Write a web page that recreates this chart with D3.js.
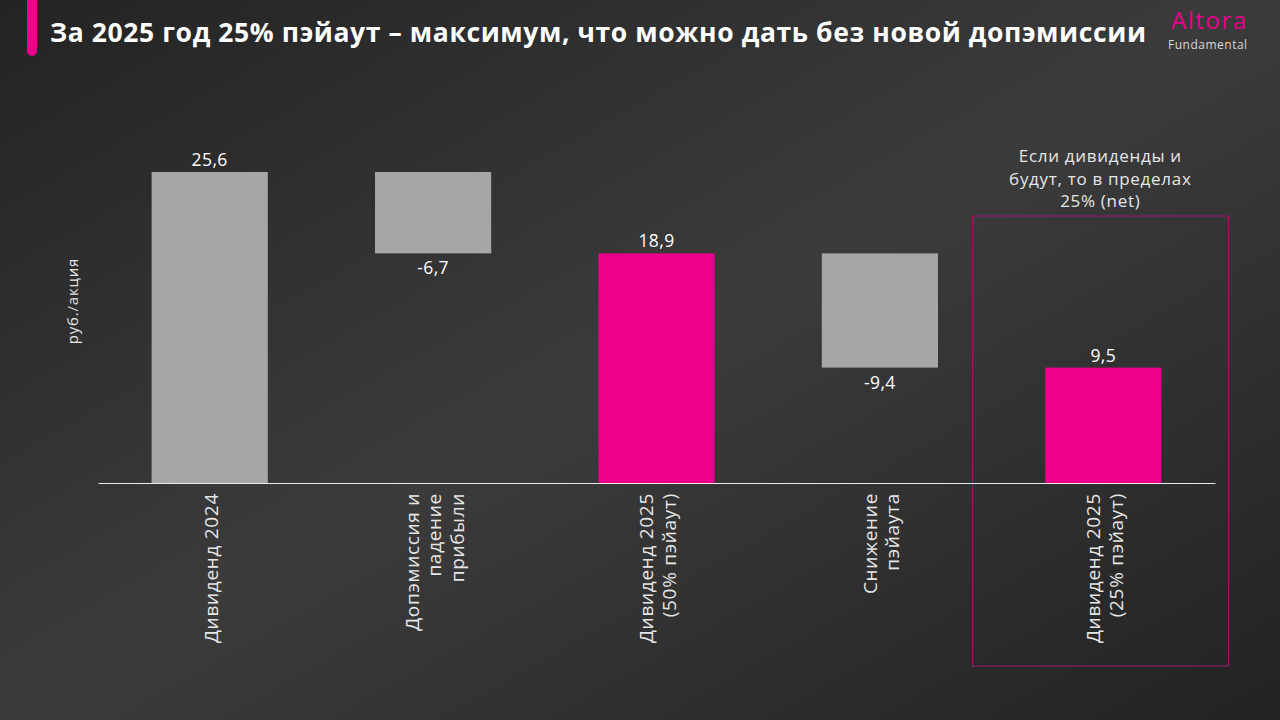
<!DOCTYPE html>
<html><head><meta charset="utf-8">
<script src="https://cdn.jsdelivr.net/npm/d3@7/dist/d3.min.js"></script>
<style>html,body{margin:0;padding:0;background:#2a2a2a;}svg{display:block;}</style>
</head><body>
<svg id="c" width="1280" height="720"></svg>
<script>
const categories = [["Дивиденд 2024"], ["Допэмиссия и", "падение", "прибыли"], ["Дивиденд 2025", "(50% пэйаут)"], ["Снижение", "пэйаута"], ["Дивиденд 2025", "(25% пэйаут)"]];
const values = [25.6, -6.7, 18.9, -9.4, 9.5];
const kinds = ["total", "delta", "total", "delta", "total"];
const valueLabels = ["25,6", "-6,7", "18,9", "-9,4", "9,5"];
const noteLines = ["Если дивиденды и", "будут, то в пределах", "25% (net)"];

const svg = d3.select("#c");
const W = 1280, H = 720;
const FONT = "'Open Sans', 'Noto Sans', sans-serif";

const defs = svg.append("defs");
const g = defs.append("linearGradient").attr("id", "bg").attr("x1", 0).attr("y1", 0).attr("x2", 1).attr("y2", 1);
g.append("stop").attr("offset", 0).attr("stop-color", "#232323");
g.append("stop").attr("offset", 0.5).attr("stop-color", "#3b3b3b");
g.append("stop").attr("offset", 1).attr("stop-color", "#222222");
svg.append("rect").attr("width", W).attr("height", H).attr("fill", "url(#bg)");

// accent bar
svg.append("rect").attr("x", 27).attr("y", -10).attr("width", 10).attr("height", 66).attr("rx", 5).attr("fill", "#ec008c");
svg.append("text").attr("x", 50).attr("y", 42).attr("fill", "#ffffff").attr("font-family", FONT)
  .attr("font-weight", 700).attr("font-size", 26.5).attr("letter-spacing", 0.6)
  .text("За 2025 год 25% пэйаут – максимум, что можно дать без новой допэмиссии");
svg.append("text").attr("x", 1171).attr("y", 29).attr("fill", "#e6008a").attr("font-family", FONT)
  .attr("font-size", 24.5).attr("letter-spacing", 1.3).text("Altora");
svg.append("text").attr("x", 1168).attr("y", 49).attr("fill", "#d8d8d8").attr("font-family", FONT)
  .attr("font-size", 12).attr("letter-spacing", 0.5).text("Fundamental");

// compute waterfall
let run = 0;
const bars = values.map((v, i) => {
  let lo, hi;
  if (kinds[i] === "total") { lo = 0; hi = v; run = v; }
  else { const s = run; run = run + v; lo = Math.min(s, run); hi = Math.max(s, run); }
  return { i, v, lo, hi, kind: kinds[i] };
});

const x = d3.scaleBand().domain(d3.range(values.length)).range([98, 1215]).paddingInner(0.48).paddingOuter(0.24);
const y = d3.scaleLinear().domain([0, 25.6]).range([483, 172]);

// highlight box
svg.append("rect").attr("x", x(4) - (x(4) - x(3) - x.bandwidth()) / 2 - 19).attr("y", 216)
  .attr("width", 256).attr("height", 450).attr("fill", "none").attr("stroke", "#8c1a64").attr("stroke-width", 1.2);

svg.selectAll("rect.bar").data(bars).join("rect").attr("class", "bar")
  .attr("x", d => x(d.i)).attr("width", x.bandwidth())
  .attr("y", d => y(d.hi)).attr("height", d => y(d.lo) - y(d.hi))
  .attr("fill", d => d.kind === "total" && d.i > 0 ? "#ec008c" : "#a6a6a6");

// axis
const axis = svg.append("g").attr("transform", "translate(0,483)").call(d3.axisBottom(x).tickSize(0).tickFormat(""));
axis.select(".domain").attr("stroke", "#e8e8e8").attr("stroke-width", 1.2);

// value labels
svg.selectAll("text.val").data(bars).join("text").attr("class", "val")
  .attr("x", d => x(d.i) + x.bandwidth() / 2)
  .attr("y", d => d.v >= 0 ? y(d.hi) - 6 : y(d.lo) + 21)
  .attr("text-anchor", "middle").attr("fill", "#ffffff").attr("font-family", FONT).attr("font-size", 17.5)
  .attr("letter-spacing", 0.4).text(d => valueLabels[d.i]);

// category labels rotated
const lh = 22.5;
categories.forEach((lines, i) => {
  const cx = x(i) + x.bandwidth() / 2;
  const n = lines.length;
  lines.forEach((t, j) => {
    const lx = cx + (j - (n - 1) / 2) * lh + 8;
    svg.append("text").attr("transform", `translate(${lx},493) rotate(-90)`)
      .attr("text-anchor", "end").attr("fill", "#e6e6e6").attr("font-family", FONT).attr("font-size", 19)
      .attr("letter-spacing", 0.7).text(t);
  });
});

// y label
svg.append("text").attr("transform", "translate(78,301) rotate(-90)").attr("text-anchor", "middle")
  .attr("fill", "#e6e6e6").attr("font-family", FONT).attr("font-size", 15).attr("letter-spacing", 0.8).text("руб./акция");

// note
svg.selectAll("text.note").data(noteLines).join("text").attr("class", "note")
  .attr("x", x(4) + x.bandwidth() / 2 - 3).attr("y", (d, i) => 162 + i * 22.5)
  .attr("text-anchor", "middle").attr("fill", "#e6e6e6").attr("font-family", FONT).attr("font-size", 17)
  .attr("letter-spacing", 0.7).text(d => d);
</script>
</body></html>
